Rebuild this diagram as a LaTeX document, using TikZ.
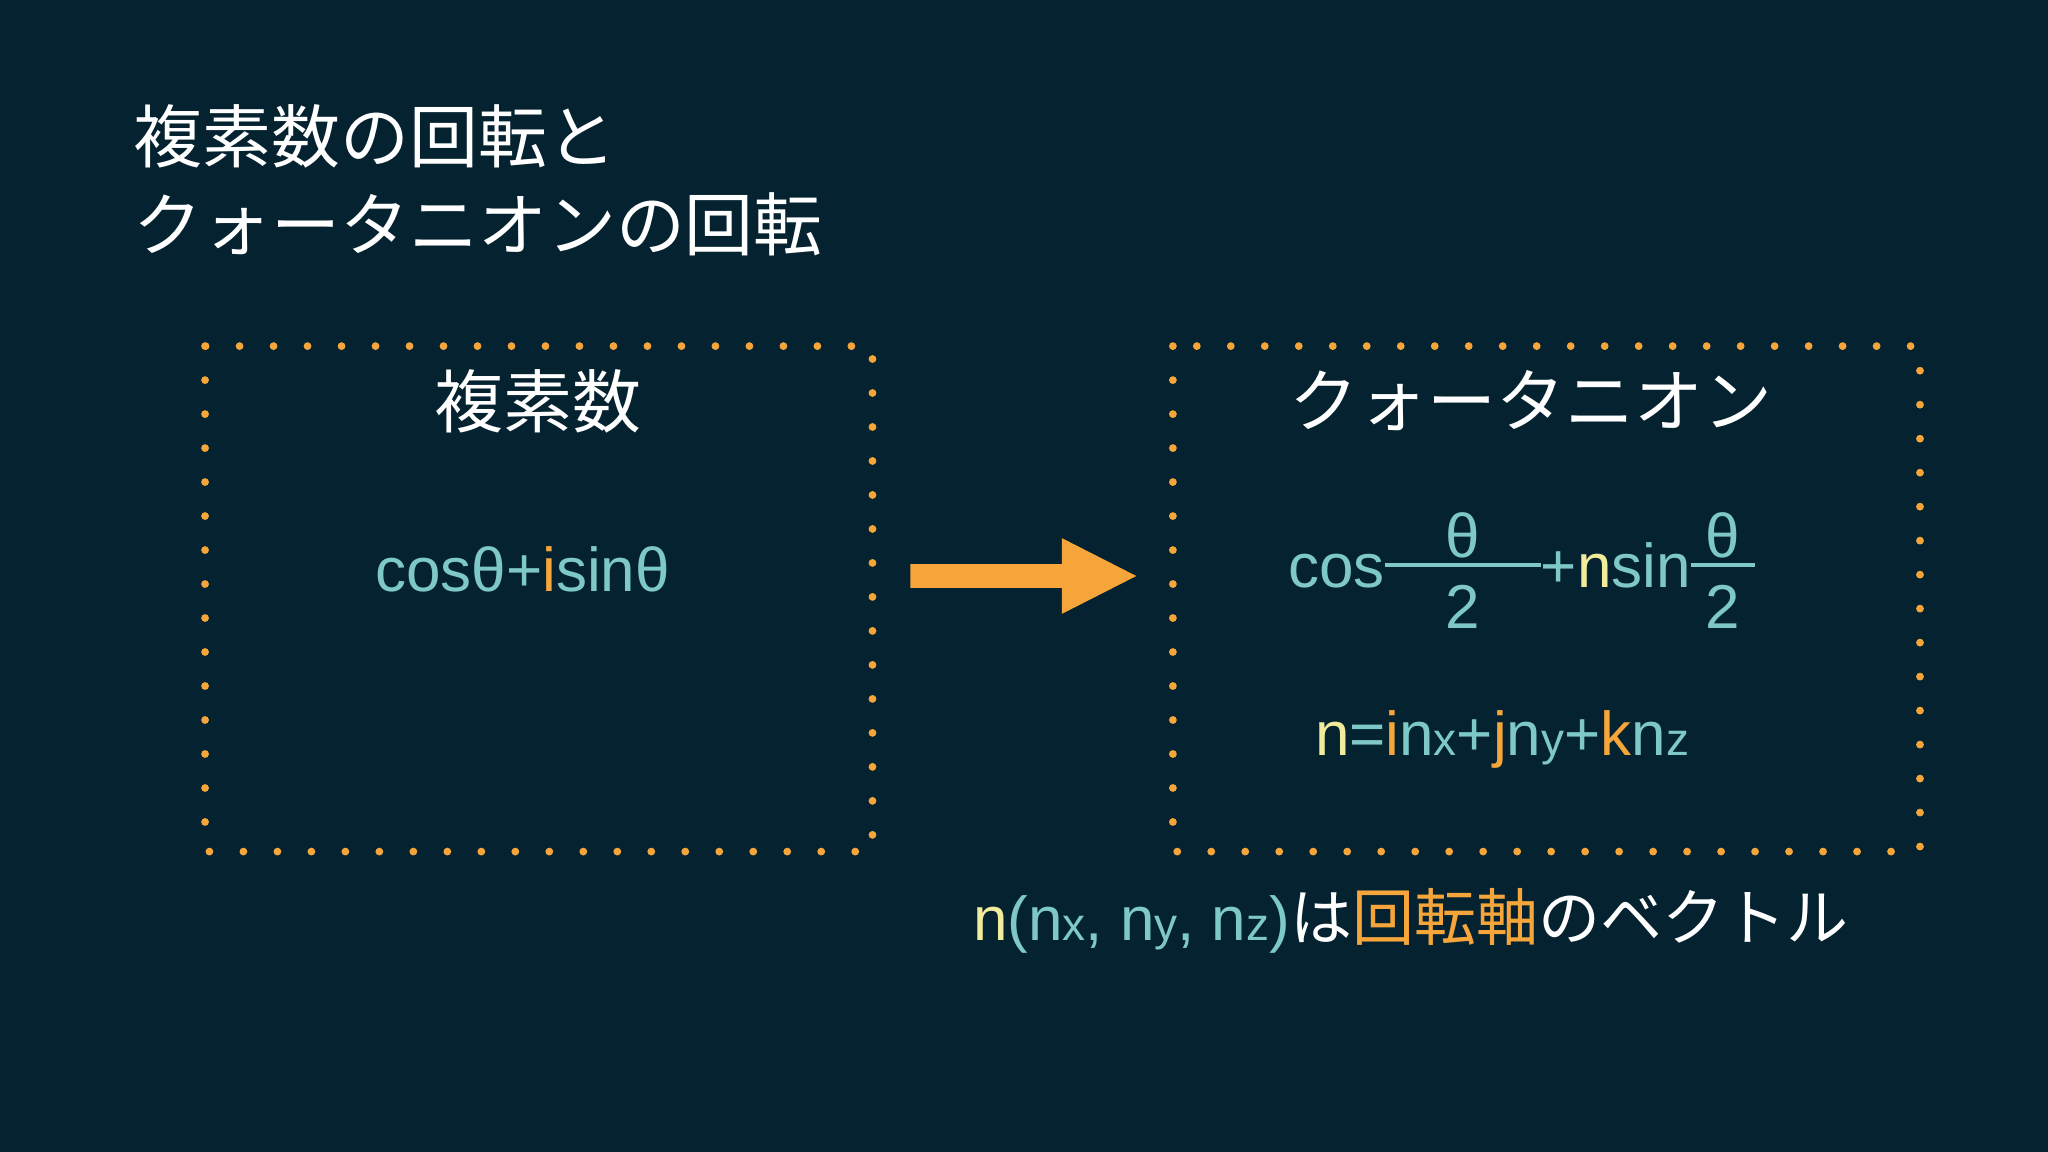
\documentclass[tikz,border=0pt]{standalone}
\usepackage{fontspec}
\setmainfont{Liberation Sans}
\newfontfamily\jp{Noto Sans CJK JP}
\definecolor{bg}{HTML}{04222F}
\definecolor{teal}{HTML}{7EC8C8}
\definecolor{org}{HTML}{F5A53A}
\definecolor{yel}{HTML}{F0EC9C}
\begin{document}
\begin{tikzpicture}[x=0.01cm,y=-0.01cm,
  dotbox/.style={draw=org,line width=1.7pt,line cap=round,dash pattern=on 0pt off 7.4pt},
  ttl/.style={text=white,font=\jp\fontsize{15}{19}\selectfont},
  mth/.style={text=teal,font=\fontsize{13.5}{16}\selectfont}]
\fill[bg] (0,0) rectangle (1568,882);
\useasboundingbox (0,0) rectangle (1568,882);
\node[ttl,anchor=west,align=left] (title) at (90,138) {複素数の回転と\\クォータニオンの回転};
\draw[dotbox] (157,265) rectangle (668,652);
\draw[dotbox] (898,265) rectangle (1470,652);
\node[ttl] (c) at (412,307) {複素数};
\node[ttl] (q) at (1172,307) {クォータニオン};
\node[mth] (ce) at (400,436) {cosθ+\textcolor{org}{i}sinθ};
\node[mth] (qe) at (1165,437) {cos$\vcenter{\hbox{\shortstack{θ\\[-2pt]\rule{34pt}{0.9pt}\\[1pt]2}}}$+\textcolor{yel}{n}sin$\vcenter{\hbox{\shortstack{θ\\[-2pt]\rule{14pt}{0.9pt}\\[1pt]2}}}$};
\node[mth] (ne) at (1150,566) {\textcolor{yel}{n}=\textcolor{org}{i}n{\fontsize{10}{12}\selectfont x}+\textcolor{org}{j}n{\fontsize{10}{12}\selectfont y}+\textcolor{org}{k}n{\fontsize{10}{12}\selectfont z}};
\node[mth] (bt) at (1080,705) {\textcolor{yel}{n}(n{\fontsize{10}{12}\selectfont x}, n{\fontsize{10}{12}\selectfont y}, n{\fontsize{10}{12}\selectfont z})\textcolor{white}{\jp は}\textcolor{org}{\jp 回転軸}\textcolor{white}{\jp のベクトル}};
\coordinate (a1) at (697,441);
\coordinate (a2) at (870,441);
\fill[org] (697,432) -- (813,432) -- (813,412) -- (870,441) -- (813,470) -- (813,450) -- (697,450) -- cycle;
\end{tikzpicture}
\end{document}
